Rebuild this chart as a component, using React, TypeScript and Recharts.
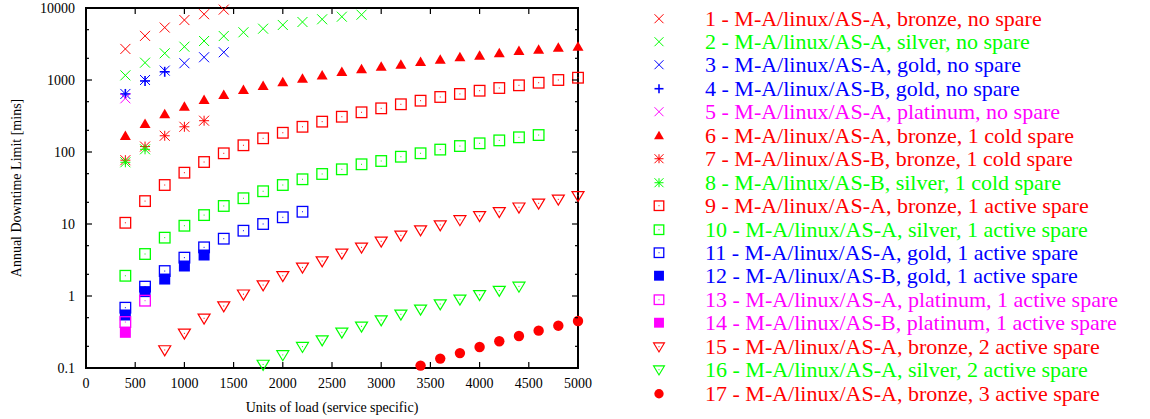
import React from "react";
import { ScatterChart, Scatter, XAxis, YAxis, Legend } from "recharts";

const RED = "#ff0000";
const GREEN = "#00ff00";
const BLUE = "#0000ff";
const MAGENTA = "#ff00ff";
const SERIF = '"Liberation Serif", "Times New Roman", serif';

const CHART_W = 1150;
const CHART_H = 419;
const PLOT_LEFT = 86;
const PLOT_TOP = 8;
const PLOT_W = 492;
const PLOT_H = 360;
const X_AXIS_H = 30;

const loadTicks = [0, 500, 1000, 1500, 2000, 2500, 3000, 3500, 4000, 4500, 5000];
const downtimeTicks = [0.1, 0.2, 0.5, 1, 2, 5, 10, 20, 50, 100, 200, 500, 1000, 2000, 5000, 10000];

// 1-5: no spare
const s1Load = [400, 600, 800, 1000, 1200, 1400];
const s1Mins = [2700, 4100, 5350, 6800, 8200, 9500];
const s2Load = [400, 600, 800, 1000, 1200, 1400, 1600, 1800, 2000, 2200, 2400, 2600, 2800];
const s2Mins = [1160, 1740, 2350, 2900, 3480, 4080, 4600, 5160, 5810, 6390, 6970, 7570, 8070];
const s3Load = [400, 600, 800, 1000, 1200, 1400];
const s3Mins = [640, 1000, 1350, 1710, 2070, 2430];
const s4Load = [400, 600, 800];
const s4Mins = [640, 970, 1300];
const s5Load = [400];
const s5Mins = [557];

// 6-8: 1 cold spare
const s6Load = [400, 600, 800, 1000, 1200, 1400, 1600, 1800, 2000, 2200, 2400, 2600,
  2800, 3000, 3200, 3400, 3600, 3800, 4000, 4200, 4400, 4600, 4800, 5000];
const s6Mins = [167, 245, 334, 426, 528, 619, 727, 826, 929, 1042, 1155, 1292,
  1409, 1531, 1632, 1778, 1914, 2066, 2175, 2350, 2530, 2638, 2812, 2901];
const s7Load = [400, 600, 800, 1000, 1200];
const s7Mins = [77, 119, 168, 224, 272];
const s8Load = [400, 600];
const s8Mins = [72, 109];

// 9-14: 1 active spare
const s9Load = [400, 600, 800, 1000, 1200, 1400, 1600, 1800, 2000, 2200, 2400, 2600,
  2800, 3000, 3200, 3400, 3600, 3800, 4000, 4200, 4400, 4600, 4800, 5000];
const s9Mins = [10.4, 20.8, 34.8, 51.6, 72.6, 95.9, 124, 155, 185, 224, 264, 309,
  356, 404, 460, 516, 581, 640, 710, 774, 844, 917, 1000, 1076];
const s10Load = [400, 600, 800, 1000, 1200, 1400, 1600, 1800, 2000, 2200, 2400,
  2600, 2800, 3000, 3200, 3400, 3600, 3800, 4000, 4200, 4400, 4600];
const s10Mins = [1.91, 3.83, 6.46, 9.46, 13.3, 17.8, 22.8, 28.5, 34.8, 41.8, 49.5,
  57.5, 67.5, 75, 86, 96, 108, 121, 132, 145, 160, 172];
const s11Load = [400, 600, 800, 1000, 1200, 1400, 1600, 1800, 2000, 2200];
const s11Mins = [0.688, 1.35, 2.22, 3.41, 4.74, 6.25, 8.07, 10, 12.4, 14.8];
const s12Load = [400, 600, 800, 1000, 1200];
const s12Mins = [0.545, 1.15, 1.72, 2.61, 3.71];
const s13Load = [400, 600];
const s13Mins = [0.435, 0.861];
const s14Load = [400];
const s14Mins = [0.313];

// 15-17: 2 and 3 active spares
const s15Load = [800, 1000, 1200, 1400, 1600, 1800, 2000, 2200, 2400, 2600, 2800,
  3000, 3200, 3400, 3600, 3800, 4000, 4200, 4400, 4600, 4800, 5000];
const s15Mins = [0.178, 0.303, 0.49, 0.726, 1.06, 1.42, 1.91, 2.5, 3.06, 3.92, 4.74,
  5.75, 6.97, 8.26, 9.69, 11.4, 13.0, 14.8, 17.1, 19.4, 22.0, 24.7];
const s16Load = [1800, 2000, 2200, 2400, 2600, 2800, 3000, 3200, 3400, 3600, 3800, 4000, 4200, 4400];
const s16Mins = [0.112, 0.152, 0.198, 0.245, 0.313, 0.379, 0.464, 0.557, 0.653, 0.774, 0.899, 1.04, 1.19, 1.36];
const s17Load = [3400, 3600, 3800, 4000, 4200, 4400, 4600, 4800, 5000];
const s17Mins = [0.108, 0.135, 0.161, 0.196, 0.235, 0.278, 0.33, 0.387, 0.45];

type Kind = "cross" | "plus" | "triUp" | "star" | "box" | "boxFill" | "triDown" | "circle";

const series: { name: string; color: string; kind: Kind; load: number[]; mins: number[] }[] = [
  { name: "1 - M-A/linux/AS-A, bronze, no spare", color: RED, kind: "cross", load: s1Load, mins: s1Mins },
  { name: "2 - M-A/linux/AS-A, silver, no spare", color: GREEN, kind: "cross", load: s2Load, mins: s2Mins },
  { name: "3 - M-A/linux/AS-A, gold, no spare", color: BLUE, kind: "cross", load: s3Load, mins: s3Mins },
  { name: "4 - M-A/linux/AS-B, gold, no spare", color: BLUE, kind: "plus", load: s4Load, mins: s4Mins },
  { name: "5 - M-A/linux/AS-A, platinum, no spare", color: MAGENTA, kind: "cross", load: s5Load, mins: s5Mins },
  { name: "6 - M-A/linux/AS-A, bronze, 1 cold spare", color: RED, kind: "triUp", load: s6Load, mins: s6Mins },
  { name: "7 - M-A/linux/AS-B, bronze, 1 cold spare", color: RED, kind: "star", load: s7Load, mins: s7Mins },
  { name: "8 - M-A/linux/AS-B, silver, 1 cold spare", color: GREEN, kind: "star", load: s8Load, mins: s8Mins },
  { name: "9 - M-A/linux/AS-A, bronze, 1 active spare", color: RED, kind: "box", load: s9Load, mins: s9Mins },
  { name: "10 - M-A/linux/AS-A, silver, 1 active spare", color: GREEN, kind: "box", load: s10Load, mins: s10Mins },
  { name: "11 - M-A/linux/AS-A, gold, 1 active spare", color: BLUE, kind: "box", load: s11Load, mins: s11Mins },
  { name: "12 - M-A/linux/AS-B, gold, 1 active spare", color: BLUE, kind: "boxFill", load: s12Load, mins: s12Mins },
  { name: "13 - M-A/linux/AS-A, platinum, 1 active spare", color: MAGENTA, kind: "box", load: s13Load, mins: s13Mins },
  { name: "14 - M-A/linux/AS-B, platinum, 1 active spare", color: MAGENTA, kind: "boxFill", load: s14Load, mins: s14Mins },
  { name: "15 - M-A/linux/AS-A, bronze, 2 active spare", color: RED, kind: "triDown", load: s15Load, mins: s15Mins },
  { name: "16 - M-A/linux/AS-A, silver, 2 active spare", color: GREEN, kind: "triDown", load: s16Load, mins: s16Mins },
  { name: "17 - M-A/linux/AS-A, bronze, 3 active spare", color: RED, kind: "circle", load: s17Load, mins: s17Mins },
];

function Marker({ kind, cx, cy, color, s = 1 }: { kind: Kind; cx: number; cy: number; color: string; s?: number }) {
  const h = 5 * s;
  const dot = <rect x={cx - 0.5} y={cy - 0.5} width={1} height={1} fill={color} />;
  switch (kind) {
    case "cross":
      return (
        <g stroke={color} strokeWidth={1}>
          <line x1={cx - h} y1={cy - h} x2={cx + h} y2={cy + h} />
          <line x1={cx - h} y1={cy + h} x2={cx + h} y2={cy - h} />
        </g>
      );
    case "plus":
      return (
        <g stroke={color} strokeWidth={1.6}>
          <line x1={cx - h} y1={cy} x2={cx + h} y2={cy} />
          <line x1={cx} y1={cy - h} x2={cx} y2={cy + h} />
        </g>
      );
    case "star":
      return (
        <g stroke={color} strokeWidth={1}>
          <line x1={cx - h} y1={cy - h} x2={cx + h} y2={cy + h} />
          <line x1={cx - h} y1={cy + h} x2={cx + h} y2={cy - h} />
          <line x1={cx - h} y1={cy} x2={cx + h} y2={cy} />
          <line x1={cx} y1={cy - h} x2={cx} y2={cy + h} />
        </g>
      );
    case "triUp":
      return <polygon points={`${cx},${cy - 5.5 * s} ${cx + 5.5 * s},${cy + 4 * s} ${cx - 5.5 * s},${cy + 4 * s}`} fill={color} />;
    case "box":
      return (
        <g>
          <rect x={cx - 5.3 * s} y={cy - 5.3 * s} width={10.6 * s} height={10.6 * s} fill="none" stroke={color} strokeWidth={1.3} />
          {dot}
        </g>
      );
    case "boxFill":
      return <rect x={cx - 5.5 * s} y={cy - 5.5 * s} width={11 * s} height={11 * s} fill={color} />;
    case "triDown":
      return (
        <g>
          <polygon points={`${cx - 6 * s},${cy - 4.2 * s} ${cx + 6 * s},${cy - 4.2 * s} ${cx},${cy + 5.8 * s}`} fill="none" stroke={color} strokeWidth={1.2} />
          {dot}
        </g>
      );
    case "circle":
      return <circle cx={cx} cy={cy} r={5.2 * s} fill={color} />;
  }
  return null;
}

const isMajor = (v: number) => Math.abs(Math.log10(v) - Math.round(Math.log10(v))) < 1e-6;

// bottom axis tick, plus its mirror on the top edge of the frame
const BottomTick = (p: any) => (
  <g stroke="#000" strokeWidth={1.2}>
    <line x1={p.x} y1={p.y} x2={p.x} y2={p.y - 6} />
    <line x1={p.x} y1={p.y - PLOT_H} x2={p.x} y2={p.y - PLOT_H + 6} />
    <text x={p.x} y={p.y + 20} textAnchor="middle" fontFamily={SERIF} fontSize={14} fill="#000" stroke="none">
      {p.payload.value}
    </text>
  </g>
);

// left axis tick, plus its mirror on the right edge of the frame
const LeftTick = (p: any) => {
  const v = p.payload.value;
  const len = isMajor(v) ? 6 : 3;
  return (
    <g stroke="#000" strokeWidth={1.2}>
      <line x1={p.x} y1={p.y} x2={p.x + len} y2={p.y} />
      <line x1={p.x + PLOT_W} y1={p.y} x2={p.x + PLOT_W - len} y2={p.y} />
      {isMajor(v) && (
        <text x={p.x - 11} y={p.y + 5} textAnchor="end" fontFamily={SERIF} fontSize={14} fill="#000" stroke="none">
          {String(v)}
        </text>
      )}
    </g>
  );
};

const YTitle = (props: any) => {
  const vb = props.viewBox;
  const x = vb.x + 16;
  const y = vb.y + vb.height / 2;
  return (
    <text x={x} y={y} transform={`rotate(-90, ${x}, ${y})`} textAnchor="middle" dominantBaseline="central"
      fontFamily={SERIF} fontSize={14} fill="#000">
      Annual Downtime Limit [mins]
    </text>
  );
};

const XTitle = (props: any) => {
  const vb = props.viewBox;
  return (
    <text x={vb.x + vb.width / 2} y={vb.y + 44} textAnchor="middle" fontFamily={SERIF} fontSize={14} fill="#000">
      Units of load (service specific)
    </text>
  );
};

const ROW = 23.44;

// legend keeps the series order (1..17) instead of recharts' sorted payload
const renderLegend = () => (
  <div style={{ fontFamily: SERIF, fontSize: 22 }}>
    {series.map((s) => (
      <div key={s.name} style={{ display: "flex", alignItems: "center", height: ROW, lineHeight: `${ROW}px` }}>
        <svg width={38} height={ROW} style={{ flex: "none" }}>
          <Marker kind={s.kind} cx={19} cy={ROW / 2} color={s.color} s={0.9} />
        </svg>
        <span style={{ marginLeft: 27, color: s.color, whiteSpace: "nowrap" }}>{s.name}</span>
      </div>
    ))}
  </div>
);

export default function App() {
  return (
    <div style={{ position: "absolute", left: 0, top: 0, width: CHART_W, height: CHART_H, background: "#fff" }}>
      <ScatterChart
        width={CHART_W}
        height={CHART_H}
        margin={{
          top: PLOT_TOP,
          right: CHART_W - PLOT_LEFT - PLOT_W,
          bottom: CHART_H - PLOT_TOP - PLOT_H - X_AXIS_H,
          left: 0,
        }}
      >
        <XAxis
          type="number"
          dataKey="x"
          domain={[0, 5000]}
          ticks={loadTicks}
          interval={0}
          height={X_AXIS_H}
          tickSize={0}
          tickMargin={0}
          tickLine={false}
          tick={BottomTick}
          axisLine={false}
          label={XTitle}
        />
        <YAxis
          type="number"
          dataKey="y"
          scale="log"
          domain={[0.1, 10000]}
          ticks={downtimeTicks}
          interval={0}
          width={PLOT_LEFT}
          tickSize={0}
          tickMargin={0}
          tickLine={false}
          tick={LeftTick}
          axisLine={false}
          label={YTitle}
        />
        <Legend
          layout="vertical"
          align="center"
          verticalAlign="middle"
          wrapperStyle={{ left: 640, top: 6.6, width: 510 }}
          content={renderLegend}
        />
        {series.map((s) => (
          <Scatter
            key={s.name}
            name={s.name}
            data={s.load.map((x, j) => ({ x, y: s.mins[j] }))}
            fill={s.color}
            isAnimationActive={false}
            shape={(p: any) => <Marker kind={s.kind} cx={p.cx} cy={p.cy} color={s.color} />}
          />
        ))}
        {/* plot frame */}
        <rect x={PLOT_LEFT} y={PLOT_TOP} width={PLOT_W} height={PLOT_H} fill="none" stroke="#000" strokeWidth={2} />
      </ScatterChart>
    </div>
  );
}
